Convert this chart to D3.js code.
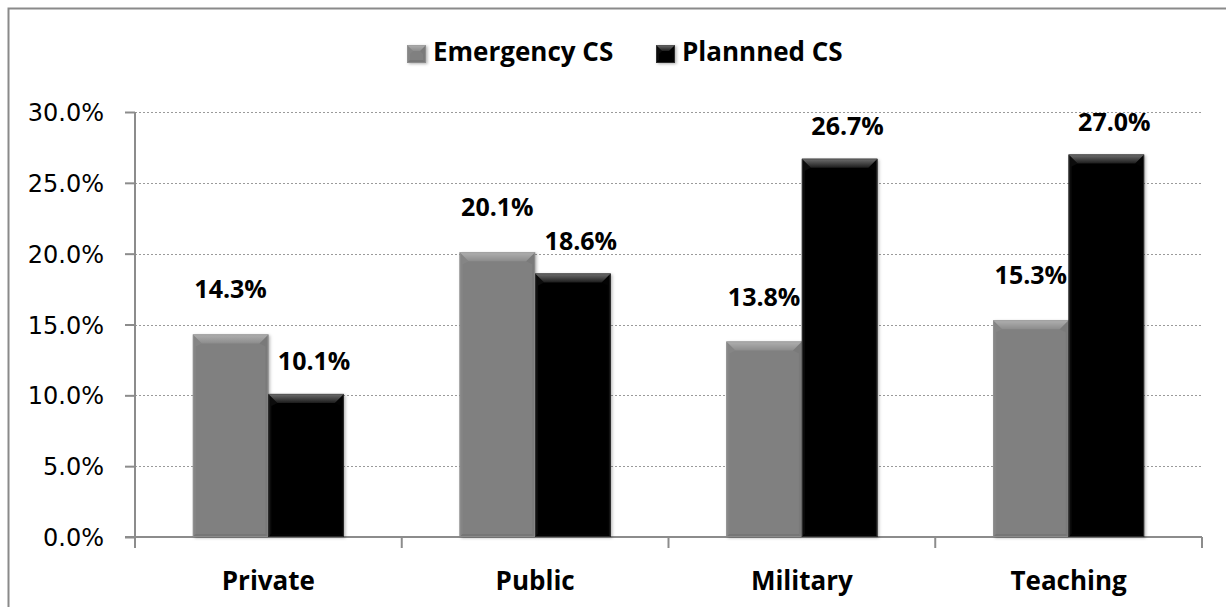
<!DOCTYPE html>
<html><head><meta charset="utf-8">
<script src="https://cdn.jsdelivr.net/npm/d3@7"></script>
<style>body{margin:0;background:#fff;}svg{display:block;}</style>
</head><body>
<svg id="chart" width="1226" height="607"></svg>
<script>
const categories = ["Private", "Public", "Military", "Teaching"];
const seriesNames = ["Emergency CS", "Plannned CS"];
const emergencyValues = [14.3, 20.1, 13.8, 15.3];
const plannedValues = [10.1, 18.6, 26.7, 27.0];
const yTicks = [0, 5, 10, 15, 20, 25, 30];

const svg = d3.select("#chart");
const m = {left: 135, right: 1202, top: 112, bottom: 537};

// outer border (right/bottom edges fall off canvas)
svg.append("rect").attr("x", 8.5).attr("y", 8.5).attr("width", 1240).attr("height", 620)
  .attr("fill", "none").attr("stroke", "#8a8a8a").attr("stroke-width", 2);

const defs = svg.append("defs");
const f = defs.append("filter").attr("id", "shadow").attr("x", "-20%").attr("y", "-20%").attr("width", "140%").attr("height", "140%");
f.append("feDropShadow").attr("dx", 1.5).attr("dy", 1).attr("stdDeviation", 1.5).attr("flood-color", "#000").attr("flood-opacity", 0.3);

const styles = {
  "Emergency CS": {face: "#808080", top: ["#b0b0b0", "#8c8c8c"], left: "#858585", right: "#7a7a7a", bottom: "#767676", edge: "#9a9a9a", gap: 36},
  "Plannned CS": {face: "#060606", top: ["#707070", "#1c1c1c"], left: "#0c0c0c", right: "#030303", bottom: "#020202", edge: "#4a4a4a", gap: 24}
};
seriesNames.forEach((s, i) => {
  const g = defs.append("linearGradient").attr("id", "topg" + i).attr("x1", 0).attr("y1", 0).attr("x2", 0).attr("y2", 1);
  g.append("stop").attr("offset", "0%").attr("stop-color", styles[s].top[0]);
  g.append("stop").attr("offset", "100%").attr("stop-color", styles[s].top[1]);
});

const x0 = d3.scaleBand().domain(categories).range([m.left, m.right]).padding(0);
const groupW = x0.bandwidth() * 0.566;
const x1 = d3.scaleBand().domain(seriesNames).range([0, groupW]).padding(0);
const y = d3.scaleLinear().domain([0, 30]).range([m.bottom, m.top]);

// gridlines
svg.append("g").selectAll("line").data(yTicks.filter(t => t > 0)).join("line")
  .attr("x1", m.left).attr("x2", m.right)
  .attr("y1", d => Math.round(y(d)) + 0.5).attr("y2", d => Math.round(y(d)) + 0.5)
  .attr("stroke", "#9a9a9a").attr("stroke-width", 1.2).attr("stroke-dasharray", "2,2");

// y axis
const yAxis = d3.axisLeft(y).tickValues(yTicks).tickSize(10).tickFormat(d => d.toFixed(1) + "%").tickPadding(20);
const ya = svg.append("g").attr("transform", `translate(${m.left},0)`).call(yAxis);
ya.select(".domain").attr("stroke", "#8c8c8c").attr("stroke-width", 2).attr("d", `M-0,${m.top}V${m.bottom + 11}`);
ya.selectAll(".tick line").attr("stroke", "#8c8c8c").attr("stroke-width", 2);
ya.selectAll(".tick text").attr("font-family", "DejaVu Sans").attr("font-size", 24).attr("fill", "#000").attr("dy", "0.36em").attr("x", -31);

// x axis
const xa = svg.append("g").attr("transform", `translate(0,${m.bottom})`)
  .call(d3.axisBottom(x0).tickSize(0).tickPadding(0));
xa.select(".domain").remove();
xa.selectAll(".tick text").attr("font-family", "Open Sans").attr("font-weight", "bold").attr("font-size", 26)
  .attr("fill", "#000").attr("y", 53).attr("dy", 0);
svg.append("line").attr("x1", m.left - 10).attr("x2", m.right).attr("y1", m.bottom).attr("y2", m.bottom)
  .attr("stroke", "#8c8c8c").attr("stroke-width", 2);
const bounds = categories.map(c => x0(c)).concat([m.right]);
svg.append("g").selectAll("line").data(bounds).join("line")
  .attr("x1", d => d).attr("x2", d => d).attr("y1", m.bottom).attr("y2", m.bottom + 11)
  .attr("stroke", "#8c8c8c").attr("stroke-width", 2);

function bevel(g, x, yy, w, h, st, i, bt, bs) {
  const t = Math.min(bt, h / 2, w / 2), b = Math.min(bs, h / 2, w / 2);
  const x2 = x + w, y2 = yy + h;
  g.append("rect").attr("x", x).attr("y", yy).attr("width", w).attr("height", h).attr("fill", st.face).attr("filter", "url(#shadow)");
  const poly = (pts, fill) => g.append("polygon").attr("points", pts.map(p => p.join(",")).join(" ")).attr("fill", fill);
  poly([[x, yy], [x + t, yy + t], [x + b, yy + t + b], [x + b, y2 - b], [x, y2]], st.left);
  poly([[x2, yy], [x2 - t, yy + t], [x2 - b, yy + t + b], [x2 - b, y2 - b], [x2, y2]], st.right);
  poly([[x, y2], [x + b, y2 - b], [x2 - b, y2 - b], [x2, y2]], st.bottom);
  poly([[x, yy], [x2, yy], [x2 - t, yy + t], [x + t, yy + t]], `url(#topg${i})`);
  g.append("rect").attr("x", x + 0.5).attr("y", yy + 0.5).attr("width", w - 1).attr("height", h - 1)
    .attr("fill", "none").attr("stroke", st.edge).attr("stroke-width", 1).attr("stroke-opacity", 0.6);
}

const seriesData = [emergencyValues, plannedValues];
const barsG = svg.append("g");
categories.forEach((c, ci) => {
  const gx = x0(c) + (x0.bandwidth() - groupW) / 2;
  seriesNames.forEach((s, si) => {
    const v = seriesData[si][ci];
    bevel(barsG.append("g"), gx + x1(s), y(v), x1.bandwidth(), y(0) - y(v), styles[s], si, 9, 3);
  });
});
// labels
categories.forEach((c, ci) => {
  const gx = x0(c) + (x0.bandwidth() - groupW) / 2;
  seriesNames.forEach((s, si) => {
    const v = seriesData[si][ci];
    svg.append("text").attr("x", gx + x1(s) + x1.bandwidth() / 2 + (si === 0 ? 0 : 8))
      .attr("y", y(v) - styles[s].gap).attr("text-anchor", "middle")
      .attr("font-family", "Open Sans").attr("font-weight", "bold").attr("font-size", 25).attr("fill", "#000")
      .text(v.toFixed(1) + "%");
  });
});

// legend
const legend = svg.append("g");
const legX = [407, 656];
seriesNames.forEach((s, i) => {
  const lg = legend.append("g");
  bevel(lg, legX[i], 45, 19, 18, styles[s], i, 6, 3);
  lg.append("text").attr("x", legX[i] + 26).attr("y", 61)
    .attr("font-family", "Open Sans").attr("font-weight", "bold").attr("font-size", 26).attr("fill", "#000")
    .text(s);
});
</script>
</body></html>
